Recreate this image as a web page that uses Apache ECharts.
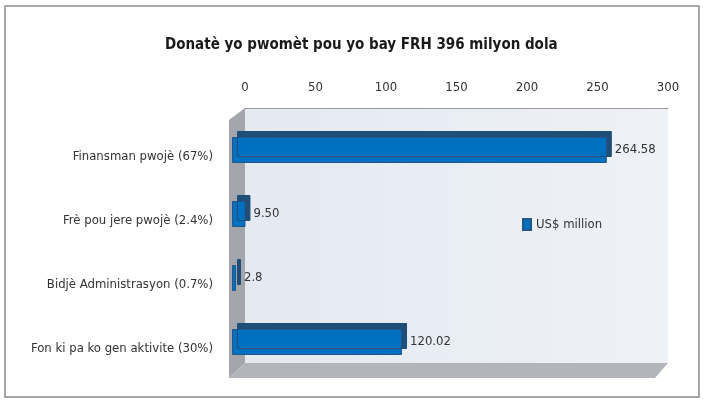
<!DOCTYPE html>
<html>
<head>
<meta charset="utf-8">
<script src="https://cdn.jsdelivr.net/npm/echarts@6/dist/echarts.min.js"></script>
<style>
html, body { margin: 0; padding: 0; background: #fff; }
#chart { width: 703px; height: 400px; }
</style>
</head>
<body>
<div id="chart"></div>
<script>
// data
const categories = [
  "Finansman pwojè (67%)",
  "Frè pou jere pwojè (2.4%)",
  "Bidjè Administrasyon (0.7%)",
  "Fon ki pa ko gen aktivite (30%)"
];
const values = [264.58, 9.5, 2.8, 120.02];
const valueLabels = ["264.58", "9.50", "2.8", "120.02"];
const seriesName = "US$ million";
const titleText = "Donatè yo pwomèt pou yo bay FRH 396 milyon dola";

const FONT = "'Liberation Sans Narrow', 'DejaVu Sans Condensed', sans-serif";

// back wall and front plane (3d look)
const wall = { left: 245, top: 108, right: 668, bottom: 363 };
const front = { left: 232, top: 118, width: 425, height: 256 };
const depthX = 16, depthY = 15;

const chart = echarts.init(document.getElementById("chart"));

chart.setOption({
  animation: false,
  backgroundColor: "#fff",
  title: {
    text: titleText,
    left: 160,
    top: 33,
    textStyle: { fontFamily: FONT, fontSize: 15, fontWeight: "bold", color: "#1a1a1a" }
  },
  legend: {
    data: [seriesName],
    icon: "rect",
    left: 517,
    top: 213,
    itemWidth: 8,
    itemHeight: 11,
    itemGap: 4,
    textStyle: { fontFamily: FONT, fontSize: 13, color: "#333" }
  },
  graphic: [
    { type: "rect", shape: { x: 5, y: 6, width: 694, height: 391 }, style: { fill: "none", stroke: "#8c8c8c", lineWidth: 1.5 }, z: -10 },
    { type: "rect", shape: { x: wall.left, y: wall.top, width: wall.right - wall.left, height: wall.bottom - wall.top },
      style: { fill: new echarts.graphic.LinearGradient(0, 0, 1, 0, [{ offset: 0, color: "#e4e9f2" }, { offset: 1, color: "#eef1f6" }]) }, z: -5 },
    { type: "polygon", shape: { points: [[wall.left - depthX, wall.top + 12], [wall.left, wall.top], [wall.left, wall.bottom], [wall.left - depthX, wall.bottom + depthY]] },
      style: { fill: "#a3a6ab" }, z: -4 },
    { type: "polygon", shape: { points: [[wall.left, wall.bottom], [wall.right, wall.bottom], [wall.right - 13, wall.bottom + depthY], [wall.left - depthX, wall.bottom + depthY]] },
      style: { fill: "#b2b5ba" }, z: -4 }
  ],
  grid: [
    { left: wall.left, top: wall.top, width: wall.right - wall.left, height: wall.bottom - wall.top, containLabel: false },
    { left: front.left, top: front.top, width: front.width, height: front.height, containLabel: false }
  ],
  xAxis: [
    {
      gridIndex: 0, type: "value", position: "top", min: 0, max: 300, interval: 50,
      axisLine: { show: true, lineStyle: { color: "#9a9a9a", width: 1 } },
      axisTick: { show: false },
      splitLine: { show: false },
      axisLabel: { margin: 14, fontFamily: FONT, fontSize: 13, color: "#333" }
    },
    {
      gridIndex: 1, type: "value", min: 0, max: 300, show: false
    }
  ],
  yAxis: [
    { gridIndex: 0, type: "category", data: categories, show: false },
    {
      gridIndex: 1, type: "category", data: categories, inverse: true,
      axisLine: { show: false }, axisTick: { show: false },
      axisLabel: { margin: 19, fontFamily: FONT, fontSize: 13, color: "#333", verticalAlign: "top" }
    }
  ],
  series: [
    {
      name: seriesName,
      type: "bar",
      xAxisIndex: 1,
      yAxisIndex: 1,
      data: values,
      barWidth: 26,
      itemStyle: {
        color: "#0070c0",
        borderColor: "#24568a",
        borderWidth: 1,
        shadowColor: "#1f4e79",
        shadowOffsetX: 5,
        shadowOffsetY: -6,
        shadowBlur: 0
      },
      label: {
        show: true,
        position: "right",
        distance: 8,
        fontFamily: FONT,
        fontSize: 13,
        color: "#333",
        formatter: p => valueLabels[p.dataIndex]
      }
    }
  ]
});
</script>
</body>
</html>
